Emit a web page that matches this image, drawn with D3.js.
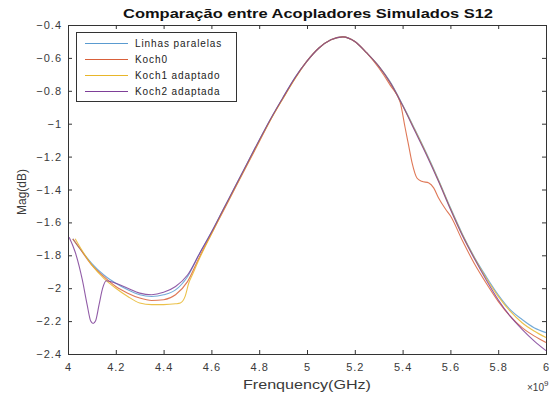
<!DOCTYPE html>
<html><head><meta charset="utf-8">
<script src="https://cdn.jsdelivr.net/npm/d3@7"></script>
<style>body{margin:0;background:#fff}svg{display:block}text{font-family:"Liberation Sans",Arial,Helvetica,sans-serif}</style>
</head><body>
<svg id="c" width="554" height="398"></svg>
<script>
const titleText = "Comparação entre Acopladores Simulados S12";
const xLabel = "Frenquency(GHz)";
const yLabel = "Mag(dB)";
const xTicks = [4, 4.2, 4.4, 4.6, 4.8, 5, 5.2, 5.4, 5.6, 5.8, 6];
const yTicks = [-0.4, -0.6, -0.8, -1, -1.2, -1.4, -1.6, -1.8, -2, -2.2, -2.4];
const seriesNames = ["Linhas paralelas", "Koch0", "Koch1 adaptado", "Koch2 adaptada"];
const seriesColors = ["#5a9bd0", "#d9603a", "#e8b62a", "#7e3f98"];

// frequency (GHz, ×10^9 Hz) and S12 magnitude (dB) for each series
const fLinhas = [4.02,4.05,4.10,4.15,4.20,4.25,4.30,4.35,4.40,4.45,4.50,4.55,4.60,4.65,4.70,4.75,4.80,4.85,4.90,4.95,5.00,5.05,5.10,5.15,5.20,5.25,5.30,5.35,5.40,5.45,5.50,5.55,5.60,5.65,5.70,5.75,5.80,5.85,5.90,5.95,6.00];
const mLinhas = [-1.70,-1.76,-1.85,-1.92,-1.97,-2.01,-2.04,-2.05,-2.04,-2.01,-1.93,-1.79,-1.66,-1.52,-1.38,-1.24,-1.10,-0.965,-0.84,-0.72,-0.62,-0.54,-0.49,-0.472,-0.50,-0.57,-0.65,-0.75,-0.885,-1.03,-1.18,-1.34,-1.51,-1.67,-1.81,-1.93,-2.04,-2.13,-2.19,-2.24,-2.27];

const fKoch0 = [4.02,4.05,4.10,4.15,4.20,4.25,4.30,4.35,4.40,4.45,4.50,4.55,4.60,4.65,4.70,4.75,4.80,4.85,4.90,4.95,5.00,5.05,5.10,5.15,5.20,5.25,5.30,5.35,5.39,5.41,5.425,5.44,5.46,5.48,5.51,5.53,5.55,5.58,5.60,5.65,5.70,5.75,5.80,5.85,5.90,5.95,6.00];
const mKoch0 = [-1.70,-1.76,-1.86,-1.93,-1.99,-2.03,-2.06,-2.075,-2.07,-2.04,-1.96,-1.81,-1.67,-1.53,-1.39,-1.25,-1.11,-0.97,-0.845,-0.725,-0.62,-0.54,-0.49,-0.472,-0.50,-0.57,-0.66,-0.77,-0.87,-1.02,-1.13,-1.24,-1.33,-1.35,-1.36,-1.39,-1.45,-1.52,-1.56,-1.71,-1.85,-1.97,-2.08,-2.17,-2.24,-2.29,-2.33];

const fKoch1 = [4.03,4.05,4.10,4.15,4.20,4.25,4.30,4.35,4.40,4.45,4.47,4.49,4.505,4.52,4.55,4.60,4.65,4.70,4.75,4.80,4.85,4.90,4.95,5.00,5.05,5.10,5.15,5.20,5.25,5.30,5.35,5.40,5.45,5.50,5.55,5.60,5.65,5.70,5.75,5.80,5.85,5.90,5.95,6.00];
const mKoch1 = [-1.70,-1.75,-1.86,-1.94,-2.00,-2.05,-2.09,-2.10,-2.10,-2.095,-2.09,-2.05,-1.97,-1.92,-1.82,-1.67,-1.525,-1.385,-1.245,-1.105,-0.97,-0.845,-0.725,-0.62,-0.54,-0.49,-0.472,-0.50,-0.57,-0.65,-0.755,-0.89,-1.035,-1.185,-1.345,-1.515,-1.675,-1.815,-1.94,-2.05,-2.14,-2.21,-2.26,-2.30];

const fKoch2 = [4.005,4.03,4.06,4.08,4.095,4.105,4.115,4.13,4.145,4.16,4.20,4.25,4.30,4.35,4.40,4.45,4.50,4.55,4.60,4.65,4.70,4.75,4.80,4.85,4.90,4.95,5.00,5.05,5.10,5.15,5.20,5.25,5.30,5.35,5.40,5.45,5.50,5.55,5.60,5.65,5.70,5.75,5.80,5.85,5.90,5.95,6.00];
const mKoch2 = [-1.69,-1.78,-1.95,-2.10,-2.20,-2.215,-2.20,-2.10,-2.00,-1.955,-1.97,-2.00,-2.03,-2.04,-2.025,-1.99,-1.92,-1.79,-1.66,-1.52,-1.38,-1.24,-1.10,-0.965,-0.84,-0.72,-0.62,-0.54,-0.49,-0.472,-0.50,-0.57,-0.65,-0.755,-0.89,-1.04,-1.19,-1.35,-1.52,-1.68,-1.82,-1.95,-2.07,-2.17,-2.25,-2.32,-2.38];

const seriesF = [fLinhas, fKoch0, fKoch1, fKoch2];
const seriesM = [mLinhas, mKoch0, mKoch1, mKoch2];

const svg = d3.select("#c");
const W = 554, H = 398;
const m = {left: 68, top: 25, right: 8, bottom: 44};
const x = d3.scaleLinear().domain([4, 6]).range([m.left, W - m.right]);
const y = d3.scaleLinear().domain([-2.4, -0.4]).range([H - m.bottom, m.top]);
const axisColor = "#333";
const labColor = "#3a3a3a";

// axes (MATLAB style: box with inward ticks)
const gx = svg.append("g").attr("transform", `translate(0,${y(-2.4)})`)
  .call(d3.axisBottom(x).tickValues(xTicks).tickSize(-4).tickPadding(9).tickFormat(d3.format("")));
const gxt = svg.append("g").attr("transform", `translate(0,${y(-0.4)})`)
  .call(d3.axisTop(x).tickValues(xTicks).tickSize(-4).tickFormat(""));
const gy = svg.append("g").attr("transform", `translate(${x(4)},0)`)
  .call(d3.axisLeft(y).tickValues(yTicks).tickSize(-4).tickPadding(6).tickFormat(d3.format("")));
const gyr = svg.append("g").attr("transform", `translate(${x(6)},0)`)
  .call(d3.axisRight(y).tickValues(yTicks).tickSize(-4).tickFormat(""));
[gx, gxt, gy, gyr].forEach(g => {
  g.selectAll(".domain").attr("stroke", axisColor).attr("stroke-width", 1);
  g.selectAll(".tick line").attr("stroke", axisColor);
  g.selectAll(".tick text").attr("fill", labColor).style("font-size", "11px").style("letter-spacing", "1px");
});
gx.selectAll(".tick text").attr("dy", "0.71em");

// lines
const line = d3.line().x(d => x(d[0])).y(d => y(d[1])).curve(d3.curveMonotoneX);
const plot = svg.append("g");
seriesNames.forEach((n, i) => {
  const pts = seriesF[i].map((f, k) => [f, seriesM[i][k]]);
  plot.append("path").datum(pts).attr("d", line)
    .attr("fill", "none").attr("stroke", seriesColors[i]).attr("stroke-width", 1.1).attr("stroke-opacity", 0.85);
});

// title
svg.append("text").attr("x", 308).attr("y", 18).attr("text-anchor", "middle")
  .attr("textLength", 370).attr("lengthAdjust", "spacingAndGlyphs")
  .style("font-size", "12.5px").style("font-weight", "bold").attr("fill", "#111").text(titleText);

// axis labels
svg.append("text").attr("x", 307).attr("y", 389).attr("text-anchor", "middle")
  .attr("textLength", 128).attr("lengthAdjust", "spacingAndGlyphs")
  .style("font-size", "12px").attr("fill", labColor).text(xLabel);
svg.append("text").attr("transform", "translate(26,192) rotate(-90)").attr("text-anchor", "middle")
  .style("font-size", "12px").attr("fill", labColor).text(yLabel);
const ex = svg.append("text").attr("x", 527).attr("y", 391).style("font-size", "10px").attr("fill", labColor);
ex.append("tspan").text("×10");
ex.append("tspan").attr("dy", -5).style("font-size", "8px").text("9");

// legend
const lg = svg.append("g");
lg.append("rect").attr("x", 76.5).attr("y", 32.5).attr("width", 160).attr("height", 69)
  .attr("fill", "#fff").attr("stroke", axisColor).attr("stroke-width", 1);
seriesNames.forEach((n, i) => {
  const yy = 43.5 + i * 16;
  lg.append("line").attr("x1", 85).attr("x2", 128).attr("y1", yy).attr("y2", yy)
    .attr("stroke", seriesColors[i]).attr("stroke-width", 1.1);
  lg.append("text").attr("x", 135).attr("y", yy + 3.5).style("font-size", "10px")
    .style("letter-spacing", "0.9px").attr("fill", "#222").text(n);
});
</script>
</body></html>
